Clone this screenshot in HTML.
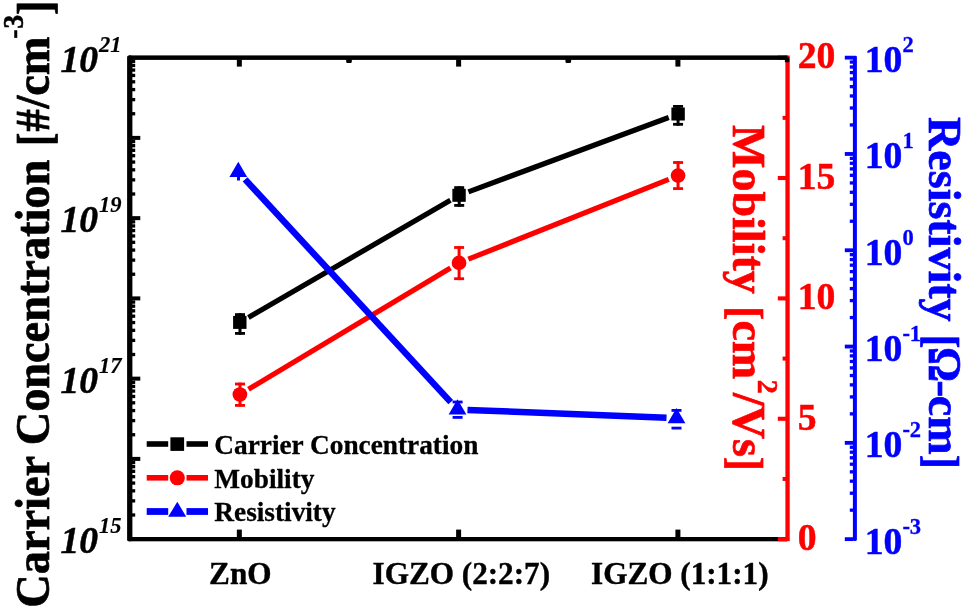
<!DOCTYPE html>
<html><head><meta charset="utf-8"><title>chart</title>
<style>html,body{margin:0;padding:0;background:#fff;}body{width:969px;height:607px;overflow:hidden;}svg{display:block;will-change:transform;}text{font-family:"Liberation Serif",serif;font-weight:bold;}</style>
</head><body>
<svg width="969" height="607" viewBox="0 0 969 607">
<rect x="0" y="0" width="969" height="607" fill="#fff"/>
<rect x="127.1" y="55.4" width="5.3" height="485.9" rx="1.6" fill="#000"/>
<rect x="128.90" y="537.00" width="658.10" height="4.30" fill="#000"/>
<rect x="785.40" y="55.50" width="4.30" height="485.70" fill="#ff0000"/>
<rect x="777.80" y="537.10" width="8.20" height="4.10" fill="#ff0000"/>
<rect x="782.60" y="476.96" width="3.40" height="4.00" fill="#ff0000"/>
<rect x="777.80" y="416.72" width="8.20" height="4.10" fill="#ff0000"/>
<rect x="782.60" y="356.59" width="3.40" height="4.00" fill="#ff0000"/>
<rect x="777.80" y="296.35" width="8.20" height="4.10" fill="#ff0000"/>
<rect x="782.60" y="236.21" width="3.40" height="4.00" fill="#ff0000"/>
<rect x="777.80" y="175.97" width="8.20" height="4.10" fill="#ff0000"/>
<rect x="782.60" y="115.84" width="3.40" height="4.00" fill="#ff0000"/>
<rect x="777.80" y="55.60" width="8.20" height="4.10" fill="#ff0000"/>
<rect x="128.90" y="55.40" width="658.50" height="4.50" fill="#000"/>
<rect x="784.90" y="57.30" width="4.40" height="4.90" fill="#000"/>
<rect x="132.00" y="513.34" width="3.20" height="3.30" fill="#000"/>
<rect x="132.00" y="499.21" width="3.20" height="3.30" fill="#000"/>
<rect x="132.00" y="489.18" width="3.20" height="3.30" fill="#000"/>
<rect x="132.00" y="481.41" width="3.20" height="3.30" fill="#000"/>
<rect x="132.00" y="475.05" width="3.20" height="3.30" fill="#000"/>
<rect x="132.00" y="469.68" width="3.20" height="3.30" fill="#000"/>
<rect x="132.00" y="465.03" width="3.20" height="3.30" fill="#000"/>
<rect x="132.00" y="460.92" width="3.20" height="3.30" fill="#000"/>
<rect x="132.00" y="456.90" width="8.30" height="4.00" fill="#000"/>
<rect x="132.00" y="433.09" width="3.20" height="3.30" fill="#000"/>
<rect x="132.00" y="418.96" width="3.20" height="3.30" fill="#000"/>
<rect x="132.00" y="408.93" width="3.20" height="3.30" fill="#000"/>
<rect x="132.00" y="401.16" width="3.20" height="3.30" fill="#000"/>
<rect x="132.00" y="394.80" width="3.20" height="3.30" fill="#000"/>
<rect x="132.00" y="389.43" width="3.20" height="3.30" fill="#000"/>
<rect x="132.00" y="384.78" width="3.20" height="3.30" fill="#000"/>
<rect x="132.00" y="380.67" width="3.20" height="3.30" fill="#000"/>
<rect x="132.00" y="376.65" width="8.30" height="4.00" fill="#000"/>
<rect x="132.00" y="352.84" width="3.20" height="3.30" fill="#000"/>
<rect x="132.00" y="338.71" width="3.20" height="3.30" fill="#000"/>
<rect x="132.00" y="328.68" width="3.20" height="3.30" fill="#000"/>
<rect x="132.00" y="320.91" width="3.20" height="3.30" fill="#000"/>
<rect x="132.00" y="314.55" width="3.20" height="3.30" fill="#000"/>
<rect x="132.00" y="309.18" width="3.20" height="3.30" fill="#000"/>
<rect x="132.00" y="304.53" width="3.20" height="3.30" fill="#000"/>
<rect x="132.00" y="300.42" width="3.20" height="3.30" fill="#000"/>
<rect x="132.00" y="296.40" width="8.30" height="4.00" fill="#000"/>
<rect x="132.00" y="272.59" width="3.20" height="3.30" fill="#000"/>
<rect x="132.00" y="258.46" width="3.20" height="3.30" fill="#000"/>
<rect x="132.00" y="248.43" width="3.20" height="3.30" fill="#000"/>
<rect x="132.00" y="240.66" width="3.20" height="3.30" fill="#000"/>
<rect x="132.00" y="234.30" width="3.20" height="3.30" fill="#000"/>
<rect x="132.00" y="228.93" width="3.20" height="3.30" fill="#000"/>
<rect x="132.00" y="224.28" width="3.20" height="3.30" fill="#000"/>
<rect x="132.00" y="220.17" width="3.20" height="3.30" fill="#000"/>
<rect x="132.00" y="216.15" width="8.30" height="4.00" fill="#000"/>
<rect x="132.00" y="192.34" width="3.20" height="3.30" fill="#000"/>
<rect x="132.00" y="178.21" width="3.20" height="3.30" fill="#000"/>
<rect x="132.00" y="168.18" width="3.20" height="3.30" fill="#000"/>
<rect x="132.00" y="160.41" width="3.20" height="3.30" fill="#000"/>
<rect x="132.00" y="154.05" width="3.20" height="3.30" fill="#000"/>
<rect x="132.00" y="148.68" width="3.20" height="3.30" fill="#000"/>
<rect x="132.00" y="144.03" width="3.20" height="3.30" fill="#000"/>
<rect x="132.00" y="139.92" width="3.20" height="3.30" fill="#000"/>
<rect x="132.00" y="135.90" width="8.30" height="4.00" fill="#000"/>
<rect x="132.00" y="112.09" width="3.20" height="3.30" fill="#000"/>
<rect x="132.00" y="97.96" width="3.20" height="3.30" fill="#000"/>
<rect x="132.00" y="87.93" width="3.20" height="3.30" fill="#000"/>
<rect x="132.00" y="80.16" width="3.20" height="3.30" fill="#000"/>
<rect x="132.00" y="73.80" width="3.20" height="3.30" fill="#000"/>
<rect x="132.00" y="68.43" width="3.20" height="3.30" fill="#000"/>
<rect x="132.00" y="63.78" width="3.20" height="3.30" fill="#000"/>
<rect x="132.00" y="59.67" width="3.20" height="3.30" fill="#000"/>
<rect x="236.84" y="59.50" width="5.00" height="7.10" fill="#000"/>
<rect x="236.84" y="529.60" width="5.00" height="7.90" fill="#000"/>
<rect x="456.12" y="59.50" width="5.00" height="7.10" fill="#000"/>
<rect x="456.12" y="529.60" width="5.00" height="7.90" fill="#000"/>
<rect x="675.41" y="59.50" width="5.00" height="7.10" fill="#000"/>
<rect x="675.41" y="529.60" width="5.00" height="7.90" fill="#000"/>
<rect x="346.18" y="59.0" width="5.6" height="3.9" rx="1.2" fill="#000"/>
<rect x="565.47" y="59.0" width="5.6" height="3.9" rx="1.2" fill="#000"/>
<rect x="852.9" y="55.7" width="4.0" height="485.2" rx="1.3" fill="#0000ff"/>
<rect x="844.80" y="537.25" width="8.70" height="3.80" fill="#0000ff"/>
<rect x="849.80" y="508.51" width="3.70" height="3.30" fill="#0000ff"/>
<rect x="849.80" y="491.55" width="3.70" height="3.30" fill="#0000ff"/>
<rect x="849.80" y="479.52" width="3.70" height="3.30" fill="#0000ff"/>
<rect x="849.80" y="470.19" width="3.70" height="3.30" fill="#0000ff"/>
<rect x="849.80" y="462.56" width="3.70" height="3.30" fill="#0000ff"/>
<rect x="849.80" y="456.12" width="3.70" height="3.30" fill="#0000ff"/>
<rect x="849.80" y="450.53" width="3.70" height="3.30" fill="#0000ff"/>
<rect x="849.80" y="445.61" width="3.70" height="3.30" fill="#0000ff"/>
<rect x="844.80" y="440.95" width="8.70" height="3.80" fill="#0000ff"/>
<rect x="849.80" y="412.21" width="3.70" height="3.30" fill="#0000ff"/>
<rect x="849.80" y="395.25" width="3.70" height="3.30" fill="#0000ff"/>
<rect x="849.80" y="383.22" width="3.70" height="3.30" fill="#0000ff"/>
<rect x="849.80" y="373.89" width="3.70" height="3.30" fill="#0000ff"/>
<rect x="849.80" y="366.26" width="3.70" height="3.30" fill="#0000ff"/>
<rect x="849.80" y="359.82" width="3.70" height="3.30" fill="#0000ff"/>
<rect x="849.80" y="354.23" width="3.70" height="3.30" fill="#0000ff"/>
<rect x="849.80" y="349.31" width="3.70" height="3.30" fill="#0000ff"/>
<rect x="844.80" y="344.65" width="8.70" height="3.80" fill="#0000ff"/>
<rect x="849.80" y="315.91" width="3.70" height="3.30" fill="#0000ff"/>
<rect x="849.80" y="298.95" width="3.70" height="3.30" fill="#0000ff"/>
<rect x="849.80" y="286.92" width="3.70" height="3.30" fill="#0000ff"/>
<rect x="849.80" y="277.59" width="3.70" height="3.30" fill="#0000ff"/>
<rect x="849.80" y="269.96" width="3.70" height="3.30" fill="#0000ff"/>
<rect x="849.80" y="263.52" width="3.70" height="3.30" fill="#0000ff"/>
<rect x="849.80" y="257.93" width="3.70" height="3.30" fill="#0000ff"/>
<rect x="849.80" y="253.01" width="3.70" height="3.30" fill="#0000ff"/>
<rect x="844.80" y="248.35" width="8.70" height="3.80" fill="#0000ff"/>
<rect x="849.80" y="219.61" width="3.70" height="3.30" fill="#0000ff"/>
<rect x="849.80" y="202.65" width="3.70" height="3.30" fill="#0000ff"/>
<rect x="849.80" y="190.62" width="3.70" height="3.30" fill="#0000ff"/>
<rect x="849.80" y="181.29" width="3.70" height="3.30" fill="#0000ff"/>
<rect x="849.80" y="173.66" width="3.70" height="3.30" fill="#0000ff"/>
<rect x="849.80" y="167.22" width="3.70" height="3.30" fill="#0000ff"/>
<rect x="849.80" y="161.63" width="3.70" height="3.30" fill="#0000ff"/>
<rect x="849.80" y="156.71" width="3.70" height="3.30" fill="#0000ff"/>
<rect x="844.80" y="152.05" width="8.70" height="3.80" fill="#0000ff"/>
<rect x="849.80" y="123.31" width="3.70" height="3.30" fill="#0000ff"/>
<rect x="849.80" y="106.35" width="3.70" height="3.30" fill="#0000ff"/>
<rect x="849.80" y="94.32" width="3.70" height="3.30" fill="#0000ff"/>
<rect x="849.80" y="84.99" width="3.70" height="3.30" fill="#0000ff"/>
<rect x="849.80" y="77.36" width="3.70" height="3.30" fill="#0000ff"/>
<rect x="849.80" y="70.92" width="3.70" height="3.30" fill="#0000ff"/>
<rect x="849.80" y="65.33" width="3.70" height="3.30" fill="#0000ff"/>
<rect x="849.80" y="60.41" width="3.70" height="3.30" fill="#0000ff"/>
<rect x="844.80" y="55.75" width="8.70" height="3.80" fill="#0000ff"/>
<line x1="248.45" y1="317.38" x2="450.40" y2="200.32" stroke="#000" stroke-width="5.2" stroke-linecap="butt"/>
<line x1="468.43" y1="191.82" x2="668.72" y2="117.48" stroke="#000" stroke-width="5.2" stroke-linecap="butt"/>
<rect x="238.50" y="313.20" width="3.00" height="21.60" fill="#000"/>
<rect x="235.00" y="313.20" width="10.00" height="2.80" fill="#000"/>
<rect x="235.00" y="332.00" width="10.00" height="2.80" fill="#000"/>
<rect x="457.70" y="186.20" width="3.00" height="20.60" fill="#000"/>
<rect x="454.20" y="186.20" width="10.00" height="2.80" fill="#000"/>
<rect x="454.20" y="204.00" width="10.00" height="2.80" fill="#000"/>
<rect x="676.55" y="105.00" width="3.00" height="20.70" fill="#000"/>
<rect x="673.05" y="105.00" width="10.00" height="2.80" fill="#000"/>
<rect x="673.05" y="122.90" width="10.00" height="2.80" fill="#000"/>
<rect x="233.10" y="315.90" width="13.40" height="13.00" fill="#000"/>
<rect x="452.35" y="188.80" width="13.40" height="13.00" fill="#000"/>
<rect x="671.40" y="107.50" width="13.40" height="13.00" fill="#000"/>
<line x1="248.47" y1="389.35" x2="450.48" y2="268.05" stroke="#ff0000" stroke-width="5.2" stroke-linecap="butt"/>
<line x1="468.34" y1="259.20" x2="668.76" y2="179.30" stroke="#ff0000" stroke-width="5.2" stroke-linecap="butt"/>
<rect x="238.50" y="382.60" width="3.00" height="24.20" fill="#ff0000"/>
<rect x="235.00" y="382.60" width="10.00" height="2.80" fill="#ff0000"/>
<rect x="235.00" y="404.00" width="10.00" height="2.80" fill="#ff0000"/>
<rect x="457.60" y="246.10" width="3.00" height="34.00" fill="#ff0000"/>
<rect x="454.10" y="246.10" width="10.00" height="2.80" fill="#ff0000"/>
<rect x="454.10" y="277.30" width="10.00" height="2.80" fill="#ff0000"/>
<rect x="676.55" y="161.10" width="3.00" height="28.90" fill="#ff0000"/>
<rect x="673.05" y="161.10" width="10.00" height="2.80" fill="#ff0000"/>
<rect x="673.05" y="187.20" width="10.00" height="2.80" fill="#ff0000"/>
<circle cx="239.90" cy="394.50" r="7.35" fill="#ff0000"/>
<circle cx="459.05" cy="262.90" r="7.35" fill="#ff0000"/>
<circle cx="678.05" cy="175.60" r="7.35" fill="#ff0000"/>
<line x1="245.08" y1="179.35" x2="450.72" y2="402.15" stroke="#0000ff" stroke-width="6.5" stroke-linecap="butt"/>
<line x1="467.49" y1="409.90" x2="666.51" y2="417.80" stroke="#0000ff" stroke-width="6.5" stroke-linecap="butt"/>
<rect x="237.00" y="170.00" width="3.00" height="10.50" fill="#0000ff"/>
<rect x="452.60" y="400.60" width="10.00" height="2.80" fill="#0000ff"/>
<rect x="452.60" y="416.00" width="10.00" height="2.80" fill="#0000ff"/>
<rect x="671.50" y="409.00" width="10.00" height="2.80" fill="#0000ff"/>
<rect x="671.50" y="426.70" width="10.00" height="2.80" fill="#0000ff"/>
<polygon points="238.30,161.80 229.40,177.10 247.20,177.10" fill="#0000ff"/>
<polygon points="457.50,399.30 448.60,414.60 466.40,414.60" fill="#0000ff"/>
<polygon points="676.50,408.00 667.60,423.30 685.40,423.30" fill="#0000ff"/>
<rect x="146.70" y="441.20" width="21.50" height="5.60" fill="#000"/>
<rect x="186.50" y="441.20" width="21.50" height="5.60" fill="#000"/>
<rect x="170.40" y="437.30" width="13.70" height="13.60" fill="#000"/>
<rect x="146.70" y="475.00" width="21.50" height="5.60" fill="#ff0000"/>
<rect x="186.50" y="475.00" width="21.50" height="5.60" fill="#ff0000"/>
<circle cx="177.3" cy="477.8" r="7.55" fill="#ff0000"/>
<rect x="146.70" y="508.10" width="21.50" height="6.80" fill="#0000ff"/>
<rect x="186.50" y="508.10" width="21.50" height="6.80" fill="#0000ff"/>
<polygon points="177.3,501.7 168.2,516.8 186.2,516.8" fill="#0000ff"/>
<text x="214.3" y="454.3" font-size="27.3" fill="#000" stroke="#000" stroke-width="0.3">Carrier Concentration</text>
<text x="214.3" y="487.6" font-size="27.3" fill="#000" stroke="#000" stroke-width="0.3">Mobility</text>
<text x="214.3" y="521.3" font-size="27.3" fill="#000" stroke="#000" stroke-width="0.3">Resistivity</text>
<text x="240.3" y="583.7" font-size="31.2" text-anchor="middle" fill="#000" stroke="#000" stroke-width="0.4">ZnO</text>
<text x="461.3" y="583.7" font-size="31.2" text-anchor="middle" fill="#000" stroke="#000" stroke-width="0.4">IGZO (2:2:7)</text>
<text x="679.8" y="583.7" font-size="31.2" text-anchor="middle" fill="#000" stroke="#000" stroke-width="0.4">IGZO (1:1:1)</text>
<text x="60.5" y="553.45" font-size="37.6" font-style="italic" fill="#000" stroke="#000" stroke-width="0.5">10<tspan font-size="22.5" dy="-20.4" dx="1" stroke-width="0.15">15</tspan></text>
<text x="60.5" y="392.95" font-size="37.6" font-style="italic" fill="#000" stroke="#000" stroke-width="0.5">10<tspan font-size="22.5" dy="-20.4" dx="1" stroke-width="0.15">17</tspan></text>
<text x="60.5" y="232.45" font-size="37.6" font-style="italic" fill="#000" stroke="#000" stroke-width="0.5">10<tspan font-size="22.5" dy="-20.4" dx="1" stroke-width="0.15">19</tspan></text>
<text x="60.5" y="71.95" font-size="37.6" font-style="italic" fill="#000" stroke="#000" stroke-width="0.5">10<tspan font-size="22.5" dy="-20.4" dx="1" stroke-width="0.15">21</tspan></text>
<text x="797.7" y="550.15" font-size="37.6" fill="#ff0000" stroke="#ff0000" stroke-width="0.5">0</text>
<text x="797.7" y="429.77" font-size="37.6" fill="#ff0000" stroke="#ff0000" stroke-width="0.5">5</text>
<text x="797.7" y="309.40" font-size="37.6" fill="#ff0000" stroke="#ff0000" stroke-width="0.5">10</text>
<text x="797.7" y="189.02" font-size="37.6" fill="#ff0000" stroke="#ff0000" stroke-width="0.5">15</text>
<text x="797.7" y="67.85" font-size="37.6" fill="#ff0000" stroke="#ff0000" stroke-width="0.5">20</text>
<text x="864.8" y="553.65" font-size="37.6" fill="#0000ff" stroke="#0000ff" stroke-width="0.5">10<tspan font-size="22.5" dy="-20" stroke-width="0.3">-3</tspan></text>
<text x="864.8" y="457.35" font-size="37.6" fill="#0000ff" stroke="#0000ff" stroke-width="0.5">10<tspan font-size="22.5" dy="-20" stroke-width="0.3">-2</tspan></text>
<text x="864.8" y="361.05" font-size="37.6" fill="#0000ff" stroke="#0000ff" stroke-width="0.5">10<tspan font-size="22.5" dy="-20" stroke-width="0.3">-1</tspan></text>
<text x="864.8" y="264.75" font-size="37.6" fill="#0000ff" stroke="#0000ff" stroke-width="0.5">10<tspan font-size="22.5" dy="-20" stroke-width="0.3">0</tspan></text>
<text x="864.8" y="168.45" font-size="37.6" fill="#0000ff" stroke="#0000ff" stroke-width="0.5">10<tspan font-size="22.5" dy="-20" stroke-width="0.3">1</tspan></text>
<text x="864.8" y="72.15" font-size="37.6" fill="#0000ff" stroke="#0000ff" stroke-width="0.5">10<tspan font-size="22.5" dy="-20" stroke-width="0.3">2</tspan></text>
<text transform="translate(49.00,607.66) rotate(-90) scale(1.0000,1.03)" font-size="46.32" fill="#000" stroke="#000" stroke-width="0.7" stroke-linejoin="round">Carrier Concentration</text>
<text transform="translate(51.00,146.00) rotate(-90) scale(0.8726,1.03)" font-size="46.32" fill="#000" stroke="#000" stroke-width="0.7" stroke-linejoin="round">[</text>
<text transform="translate(49.00,131.38) rotate(-90) scale(0.9572,1.03)" font-size="46.32" fill="#000" stroke="#000" stroke-width="0.7" stroke-linejoin="round">#</text>
<text transform="translate(49.00,108.59) rotate(-90) scale(1.0000,1.03)" font-size="46.32" fill="#000" stroke="#000" stroke-width="0.7" stroke-linejoin="round">/cm</text>
<text transform="translate(23.20,38.63) rotate(-90) scale(1.0000,1.03)" font-size="28" fill="#000" stroke="#000" stroke-width="0.5" stroke-linejoin="round">-</text>
<text transform="translate(23.20,28.75) rotate(-90) scale(1.0000,1.03)" font-size="28" fill="#000" stroke="#000" stroke-width="0.5" stroke-linejoin="round">3</text>
<text transform="translate(51.00,14.96) rotate(-90) scale(0.9308,1.03)" font-size="46.32" fill="#000" stroke="#000" stroke-width="0.7" stroke-linejoin="round">]</text>
<text transform="translate(733.30,125.11) rotate(90) scale(1.0000,1.03)" font-size="46" fill="#ff0000" stroke="#ff0000" stroke-width="0.7" stroke-linejoin="round">Mobility</text>
<text transform="translate(731.30,306.37) rotate(90) scale(0.9178,1.03)" font-size="46" fill="#ff0000" stroke="#ff0000" stroke-width="0.7" stroke-linejoin="round">[</text>
<text transform="translate(733.30,320.43) rotate(90) scale(1.0000,1.03)" font-size="46" fill="#ff0000" stroke="#ff0000" stroke-width="0.7" stroke-linejoin="round">cm</text>
<text transform="translate(758.10,379.82) rotate(90) scale(1.0000,1.03)" font-size="28" fill="#ff0000" stroke="#ff0000" stroke-width="0.5" stroke-linejoin="round">2</text>
<text transform="translate(733.30,392.95) rotate(90) scale(1.0000,1.03)" font-size="46" fill="#ff0000" stroke="#ff0000" stroke-width="0.7" stroke-linejoin="round">/Vs</text>
<text transform="translate(731.30,456.76) rotate(90) scale(0.9275,1.03)" font-size="46" fill="#ff0000" stroke="#ff0000" stroke-width="0.7" stroke-linejoin="round">]</text>
<text transform="translate(929.40,117.11) rotate(90) scale(1.0000,1.03)" font-size="46" fill="#0000ff" stroke="#0000ff" stroke-width="0.7" stroke-linejoin="round">Resistivity</text>
<text transform="translate(927.40,334.83) rotate(90) scale(0.8982,1.03)" font-size="46" fill="#0000ff" stroke="#0000ff" stroke-width="0.7" stroke-linejoin="round">[</text>
<text transform="translate(929.40,347.01) rotate(90) scale(0.9510,1.03)" font-size="46" fill="#0000ff" stroke="#0000ff" stroke-width="0.7" stroke-linejoin="round">Ω</text>
<text transform="translate(929.40,380.23) rotate(90) scale(1.1130,1.03)" font-size="46" fill="#0000ff" stroke="#0000ff" stroke-width="0.7" stroke-linejoin="round">-</text>
<text transform="translate(929.40,395.83) rotate(90) scale(1.0000,1.03)" font-size="46" fill="#0000ff" stroke="#0000ff" stroke-width="0.7" stroke-linejoin="round">cm</text>
<text transform="translate(927.40,454.67) rotate(90) scale(0.9178,1.03)" font-size="46" fill="#0000ff" stroke="#0000ff" stroke-width="0.7" stroke-linejoin="round">]</text>
</svg></body></html>
